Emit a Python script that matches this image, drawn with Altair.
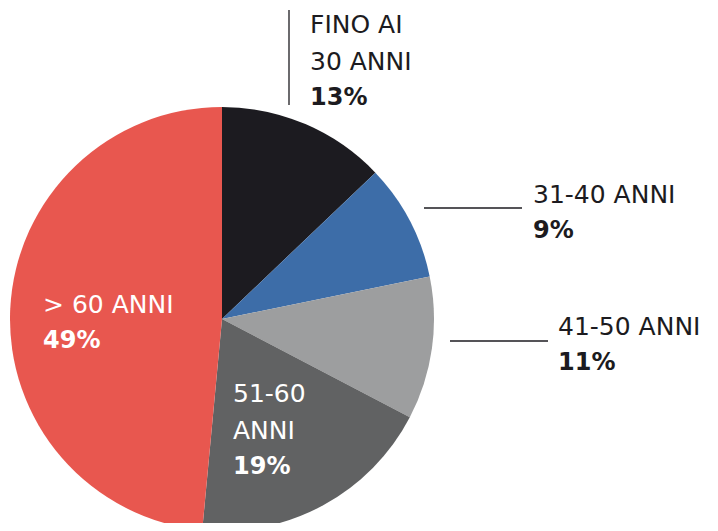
import altair as alt
import pandas as pd

# ---- data ----
categories = ["FINO AI 30 ANNI", "31-40 ANNI", "41-50 ANNI", "51-60 ANNI", "> 60 ANNI"]
values = [13, 9, 11, 19, 49]
colors = ["#1c1b20", "#3d6da8", "#9d9e9f", "#616263", "#e8574f"]
label_lines = [["FINO AI", "30 ANNI"], ["31-40 ANNI"], ["41-50 ANNI"], ["51-60", "ANNI"], ["> 60 ANNI"]]
pct_labels = ["13%", "9%", "11%", "19%", "49%"]

# ---- layout (chart coordinates, page margin 8px removed) ----
W, H = 702, 515
CX, CY, R = 214, 311, 212
label_pos = [(302, 25), (525, 195), (550, 327), (225, 394), (35, 305)]  # first baseline
label_color = ["#1c1b20", "#1c1b20", "#1c1b20", "#ffffff", "#ffffff"]
line_step = 37
leader_lines = [(281, 2, 281, 97), (416, 200, 514, 200), (442, 333, 540, 333)]
FONT = "DejaVu Sans"

pie_df = pd.DataFrame({"cat": categories, "value": values, "order": range(len(values))})

rows = []
for i, cat in enumerate(categories):
    x0, y0 = label_pos[i]
    lines = label_lines[i]
    for j, ln in enumerate(lines):
        rows.append({"x": x0, "y": y0 + j * line_step, "t": ln, "w": "normal", "c": label_color[i]})
    rows.append({"x": x0, "y": y0 + len(lines) * line_step - 2, "t": pct_labels[i], "w": "bold", "c": label_color[i]})
text_df = pd.DataFrame(rows)
lines_df = pd.DataFrame(leader_lines, columns=["x", "y", "x2", "y2"])

pie = alt.Chart(pie_df).mark_arc(outerRadius=R).encode(
    theta=alt.Theta("value:Q", stack=True),
    order=alt.Order("order:Q"),
    color=alt.Color("cat:N", scale=alt.Scale(domain=categories, range=colors), legend=None),
    x=alt.value(CX),
    y=alt.value(CY),
)

def text_layer(weight, size):
    return alt.Chart(text_df).transform_filter(f"datum.w == '{weight}'").mark_text(
        align="left", baseline="alphabetic", font=FONT, fontSize=size, fontWeight=weight
    ).encode(
        x=alt.X("x:Q", scale=None, axis=None),
        y=alt.Y("y:Q", scale=None, axis=None),
        text="t:N",
        color=alt.Color("c:N", scale=None),
    )

rules = alt.Chart(lines_df).mark_rule(color="#1c1b20", strokeWidth=1.3).encode(
    x=alt.X("x:Q", scale=None, axis=None),
    y=alt.Y("y:Q", scale=None, axis=None),
    x2="x2:Q",
    y2="y2:Q",
)

chart = alt.layer(pie, rules, text_layer("normal", 25), text_layer("bold", 24)).properties(
    width=W, height=H, padding=0, autosize=alt.AutoSizeParams(type="none")
).configure(background="white", view=alt.ViewConfig(stroke=None))

chart.save("out.html", embed_options={"renderer": "svg", "actions": False})
